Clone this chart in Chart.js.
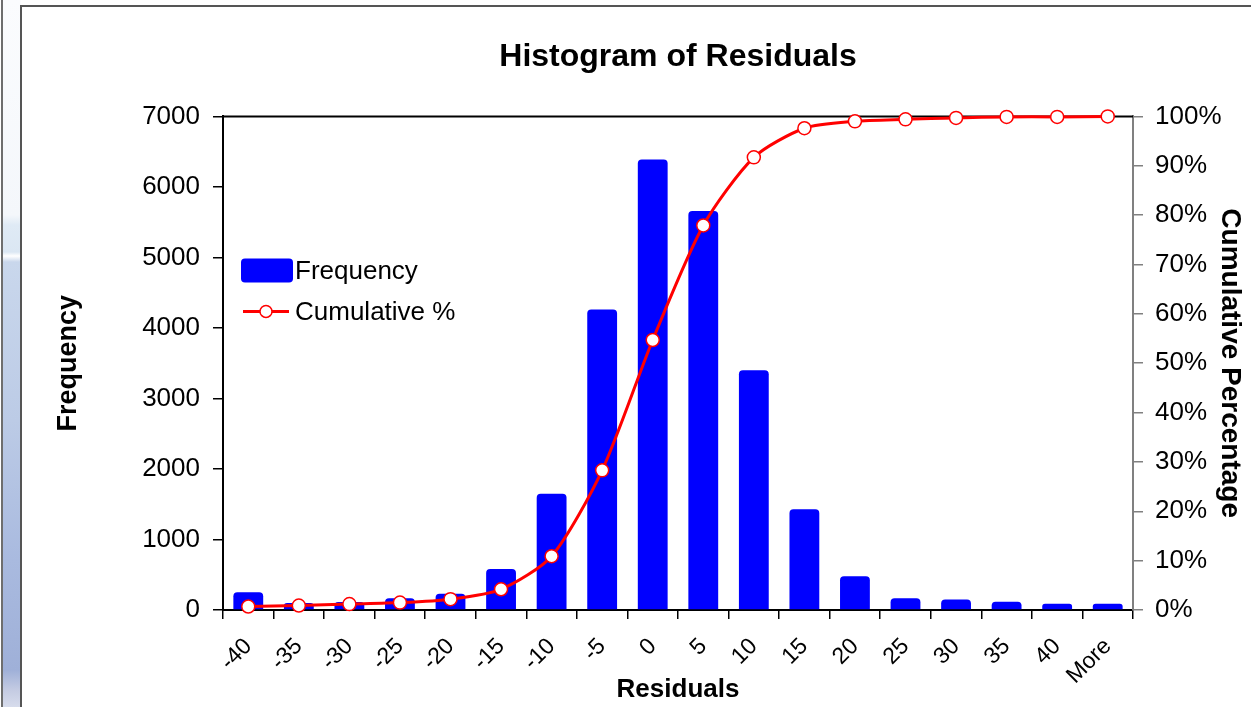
<!DOCTYPE html>
<html>
<head>
<meta charset="utf-8">
<title>Histogram of Residuals</title>
<script src="https://cdn.jsdelivr.net/npm/chart.js@4.4.1/dist/chart.umd.min.js"></script>
<style>
  html, body { margin: 0; padding: 0; width: 1251px; height: 707px; overflow: hidden; background: #fff; }
  #edge { position: absolute; left: 1px; top: 0; width: 2px; height: 707px; background: #6e6e6e; }
  #strip {
    position: absolute; left: 3px; top: 0; width: 18px; height: 707px;
    background: linear-gradient(to bottom, #fbfcfe 0px, #f4f7fb 215px, #dfeaf5 225px, #dbe7f3 252px,
      #ffffff 256px, #c9d7ec 262px, #bccbe6 420px, #a9badf 560px, #9fb0d8 670px, #c4cbe2 690px, #d7dcec 707px);
  }
  #frame { position: absolute; left: 20px; top: 5px; width: 1300px; height: 800px;
    border-left: 2px solid #555; border-top: 2px solid #555; background: #fff; }
  #chart-canvas { position: absolute; left: 0; top: 0; }
</style>
</head>
<body>
<div id="edge"></div>
<div id="strip"></div>
<div id="frame"></div>
<canvas id="chart-canvas" width="1251" height="707"></canvas>
<script>
const categories = ['-40', '-35', '-30', '-25', '-20', '-15', '-10', '-5', '0', '5',
  '10', '15', '20', '25', '30', '35', '40', 'More'];
const frequency = [250, 100, 115, 165, 230, 580, 1650, 4260, 6390, 5660,
  3400, 1430, 480, 165, 150, 118, 90, 90];
const cumulativePct = [0.7, 0.9, 1.2, 1.5, 2.2, 4.2, 10.9, 28.3, 54.7, 77.9,
  91.7, 97.6, 99.0, 99.4, 99.7, 99.9, 99.9, 100];

const FONT = "'Liberation Sans', Arial, sans-serif";

// plot frame top edge (Excel draws a border round the plot area)
const plotTop = {
  id: 'plotTop',
  beforeDatasetsDraw(chart) {
    const { ctx, chartArea } = chart;
    ctx.save();
    ctx.strokeStyle = '#000';
    ctx.lineWidth = 2;
    ctx.beginPath();
    ctx.moveTo(chartArea.left, chartArea.top);
    ctx.lineTo(chartArea.right, chartArea.top);
    ctx.stroke();
    ctx.restore();
  }
};

// legend sits inside the plot, upper left
const insideLegend = {
  id: 'insideLegend',
  afterDatasetsDraw(chart) {
    const { ctx, chartArea } = chart;
    const bar = chart.data.datasets[0];
    const line = chart.data.datasets[1];
    const x = chartArea.left + 18;
    const y1 = chartArea.top + 154;
    const y2 = chartArea.top + 195;
    ctx.save();
    ctx.fillStyle = bar.backgroundColor;
    ctx.beginPath();
    ctx.roundRect(x, y1 - 12, 52, 24, 4);
    ctx.fill();
    ctx.strokeStyle = line.borderColor;
    ctx.lineWidth = 3;
    ctx.beginPath();
    ctx.moveTo(x + 2, y2);
    ctx.lineTo(x + 48, y2);
    ctx.stroke();
    ctx.fillStyle = line.pointBackgroundColor;
    ctx.lineWidth = 1.5;
    ctx.beginPath();
    ctx.arc(x + 25, y2, 6, 0, Math.PI * 2);
    ctx.fill();
    ctx.stroke();
    ctx.fillStyle = '#000';
    ctx.font = '26px ' + FONT;
    ctx.textBaseline = 'middle';
    ctx.fillText(bar.label, x + 54, y1 + 1);
    ctx.fillText(line.label, x + 54, y2 + 1);
    ctx.restore();
  }
};

const ctx = document.getElementById('chart-canvas');

let myChart = new Chart(ctx, {
  data: {
    labels: categories,
    datasets: [
      {
        type: 'bar',
        label: 'Frequency',
        data: frequency,
        backgroundColor: '#0000ff',
        borderRadius: 4,
        categoryPercentage: 1,
        barPercentage: 0.59,
        yAxisID: 'y',
        order: 2
      },
      {
        type: 'line',
        label: 'Cumulative %',
        data: cumulativePct,
        borderColor: '#ff0000',
        borderWidth: 3,
        tension: 0.25,
        pointRadius: 6.5,
        pointBorderWidth: 1.5,
        pointBackgroundColor: '#ffffff',
        pointBorderColor: '#ff0000',
        clip: false,
        yAxisID: 'y1',
        order: 1
      }
    ]
  },
  options: {
    responsive: false,
    animation: false,
    layout: {
      padding: { left: 40, right: 0, top: 0, bottom: 0 }
    },
    scales: {
      x: {
        afterFit: (s) => { s.height = 97; },
        grid: { offset: true, drawOnChartArea: false, tickLength: 9, color: '#000', lineWidth: 1.5 },
        border: { color: '#000', width: 2 },
        ticks: { color: '#000', minRotation: 45, maxRotation: 45, padding: 14, font: { family: FONT, size: 23 } },
        title: { display: true, text: 'Residuals', color: '#000', padding: { top: 0, bottom: 2 },
          font: { family: FONT, size: 26, weight: 'bold' } }
      },
      y: {
        position: 'left',
        min: 0,
        max: 7000,
        afterFit: (s) => { s.width = 183; },
        grid: { drawOnChartArea: false, tickLength: 10, color: '#000', lineWidth: 1.5 },
        border: { color: '#000', width: 2 },
        ticks: { stepSize: 1000, color: '#000', padding: 13, callback: (v) => String(v),
          font: { family: FONT, size: 26 } },
        title: { display: true, text: 'Frequency', color: '#000', padding: { top: 12, bottom: 0 },
          font: { family: FONT, size: 27, weight: 'bold' } }
      },
      y1: {
        position: 'right',
        min: 0,
        max: 100,
        afterFit: (s) => { s.width = 118; },
        grid: { drawOnChartArea: false, tickLength: 10, color: '#808080', lineWidth: 1.5 },
        border: { color: '#808080', width: 2 },
        ticks: { stepSize: 10, color: '#000', padding: 12, callback: (v) => v + '%',
          font: { family: FONT, size: 26 } },
        title: { display: true, text: 'Cumulative Percentage', color: '#000', padding: { top: 4, bottom: 0 },
          font: { family: FONT, size: 28, weight: 'bold' } }
      }
    },
    plugins: {
      legend: { display: false },
      tooltip: { enabled: false },
      title: {
        display: true,
        fullSize: false,
        text: 'Histogram of Residuals',
        color: '#000',
        padding: { top: 38, bottom: 40 },
        font: { family: FONT, size: 32, weight: 'bold' }
      }
    }
  },
  plugins: [plotTop, insideLegend]
});
</script>
</body>
</html>
